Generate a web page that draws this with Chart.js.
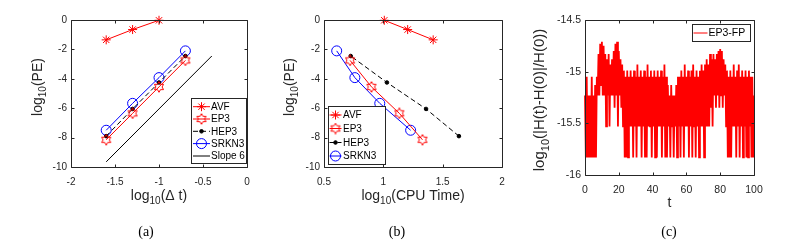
<!DOCTYPE html>
<html>
<head>
<meta charset="utf-8">
<script src="https://cdn.jsdelivr.net/npm/chart.js@4.4.0/dist/chart.umd.min.js"></script>
<style>
  body { margin: 0; background: #fff; }
  #wrap { position: relative; width: 796px; height: 245px; overflow: hidden; }
  canvas { position: absolute; top: 0; }
</style>
</head>
<body>
<div id="wrap">
  <canvas id="chartA" width="265" height="245" style="left:0px"></canvas>
  <canvas id="chartB" width="265" height="245" style="left:265px"></canvas>
  <canvas id="chartC" width="266" height="245" style="left:530px"></canvas>
</div>
<script>
// ---- data ----
// (a) error vs step size
const logDt = [-1.6, -1.3, -1.0, -0.7];
const avfPE = [-1.35, -0.65, -0.02];          // 4th point is above the axes
const ep3PE = [-8.15, -6.35, -4.55, -2.75];
const hep3PE = [-7.9, -6.05, -4.25, -2.45];
const srkn3PE = [-7.5, -5.67, -3.92, -2.1];
const slopeX = [-1.6, -0.4];
const slopeY = [-9.65, -2.45];

// (b) error vs CPU time (same order as logDt)
const avfCpu = [1.42, 1.205, 1.008];
const ep3Cpu = [1.33, 1.135, 0.9, 0.72];
const hep3Cpu = [1.637, 1.36, 1.03, 0.725];
const srkn3Cpu = [1.23, 0.97, 0.76, 0.607];

// (c) energy error of EP3-FP, sampled every tStep
const tStep = 0.5;
const fpLogErr = [
  -15.23, -15.83, -15.05, -15.83, -15.23, -15.83, -15.23, -15.83, -15.05, -15.83,
  -15.23, -15.83, -15.13, -15.83, -15.05, -15.23, -14.83, -15.23, -14.73, -15.13,
  -14.71, -15.23, -14.75, -15.23, -14.83, -15.53, -14.88, -15.23, -14.83, -15.53,
  -14.93, -15.23, -14.88, -15.23, -14.80, -15.35, -14.73, -15.23, -14.71, -15.53,
  -14.80, -15.23, -14.88, -15.35, -14.93, -15.53, -14.99, -15.83, -15.05, -15.83,
  -14.99, -15.83, -15.05, -15.53, -14.99, -15.53, -15.05, -15.83, -14.99, -15.53,
  -15.05, -15.83, -14.93, -15.53, -15.05, -15.53, -14.99, -15.83, -15.05, -15.53,
  -14.99, -15.83, -15.05, -15.83, -14.93, -15.53, -15.05, -15.53, -14.99, -15.83,
  -15.05, -15.53, -14.99, -15.83, -15.05, -15.83, -14.99, -15.53, -15.05, -15.53,
  -14.99, -15.83, -15.05, -15.53, -14.93, -15.83, -15.05, -15.83, -15.13, -15.53,
  -15.23, -15.83, -15.13, -15.53, -15.23, -15.83, -15.23, -15.53, -15.13, -15.83,
  -15.05, -15.53, -15.05, -15.83, -14.99, -15.53, -15.05, -15.83, -14.93, -15.53,
  -15.05, -15.53, -14.99, -15.83, -15.05, -15.53, -14.99, -15.83, -14.93, -15.53,
  -15.05, -15.83, -14.99, -15.53, -15.05, -15.83, -14.99, -15.53, -14.93, -15.53,
  -14.99, -15.83, -14.93, -15.53, -14.88, -15.53, -14.93, -15.53, -14.83, -15.35,
  -14.88, -15.53, -14.83, -15.23, -14.88, -15.35, -14.83, -15.23, -14.80, -15.35,
  -14.78, -15.23, -14.80, -15.35, -14.88, -15.23, -14.93, -15.53, -14.99, -15.83,
  -15.05, -15.83, -14.99, -15.83, -15.05, -15.53, -14.93, -15.53, -15.05, -15.83,
  -14.99, -15.53, -14.93, -15.83, -15.05, -15.53, -14.99, -15.83, -15.05, -15.53,
  -14.99, -15.83, -15.05, -15.83, -14.99, -15.53, -15.05, -15.83, -15.05, -15.83,
  -15.23
];

// ---- drawing helpers ----
const FONT = '"Liberation Sans", Arial, sans-serif';
const AXIS = '#262626';

function pts(xs, ys) {
  return ys.map((y, i) => ({ x: xs[i], y: y }));
}

function hexagram(size, color) {
  const c = document.createElement('canvas');
  c.width = c.height = size;
  const g = c.getContext('2d');
  const ro = size / 2 - 0.7, ri = ro / Math.sqrt(3);
  g.beginPath();
  for (let k = 0; k < 12; k++) {
    const r = k % 2 ? ri : ro;
    const a = -Math.PI / 2 + k * Math.PI / 6;
    const px = size / 2 + r * Math.cos(a), py = size / 2 + r * Math.sin(a);
    if (k === 0) g.moveTo(px, py); else g.lineTo(px, py);
  }
  g.closePath();
  g.strokeStyle = color;
  g.lineWidth = 1;
  g.stroke();
  return c;
}
const hexRed = hexagram(12, '#ff0000');

const styles = {
  AVF:   { color: '#ff0000', dash: [], pointStyle: 'star', radius: 4.5 },
  EP3:   { color: '#ff0000', dash: [], pointStyle: hexRed, radius: 6 },
  HEP3:  { color: '#000000', dash: [5, 3], pointStyle: 'circle', radius: 1.8, fill: true },
  SRKN3: { color: '#0000ff', dash: [], pointStyle: 'circle', radius: 5 },
  'Slope 6': { color: '#000000', dash: [], pointStyle: false, radius: 0 },
  'EP3-FP': { color: '#ff0000', dash: [], pointStyle: false, radius: 0, width: 1.8 }
};

function dataset(label, data) {
  const s = styles[label];
  return {
    label: label,
    data: data,
    borderColor: s.color,
    backgroundColor: s.fill ? s.color : 'rgba(0,0,0,0)',
    borderWidth: s.width || 1,
    borderDash: s.dash,
    pointStyle: s.pointStyle,
    pointRadius: s.radius,
    pointBorderWidth: 1,
    pointBorderColor: s.color,
    pointBackgroundColor: s.fill ? s.color : 'rgba(0,0,0,0)',
    tension: 0,
    clip: 8
  };
}

function drawParts(ctx, parts, x, y, rot, size) {
  ctx.save();
  ctx.translate(x, y);
  ctx.rotate(rot);
  ctx.fillStyle = AXIS;
  ctx.textAlign = 'left';
  ctx.textBaseline = 'alphabetic';
  const sub = Math.round(size * 0.7);
  let w = 0;
  parts.forEach(p => {
    ctx.font = (p[1] ? sub : size) + 'px ' + FONT;
    w += ctx.measureText(p[0]).width;
  });
  let cx = -w / 2;
  parts.forEach(p => {
    ctx.font = (p[1] ? sub : size) + 'px ' + FONT;
    ctx.fillText(p[0], cx, p[1] ? size * 0.3 : 0);
    cx += ctx.measureText(p[0]).width;
  });
  ctx.restore();
}

const matlab = {
  id: 'matlab',
  afterDatasetsDraw(chart, args, o) {
    const ctx = chart.ctx;
    const a = chart.chartArea;
    const xs = chart.scales.x, ys = chart.scales.y;
    ctx.save();
    ctx.strokeStyle = AXIS;
    ctx.lineWidth = 1;
    ctx.setLineDash([]);
    ctx.beginPath();
    const L = Math.round(a.left) + 0.5, R = Math.round(a.right) + 0.5;
    const T = Math.round(a.top) + 0.5, B = Math.round(a.bottom) + 0.5;
    ctx.rect(L, T, R - L, B - T);
    const tl = 3;
    xs.ticks.forEach(t => {
      const px = Math.round(xs.getPixelForValue(t.value)) + 0.5;
      ctx.moveTo(px, B); ctx.lineTo(px, B - tl);
      ctx.moveTo(px, T); ctx.lineTo(px, T + tl);
    });
    ys.ticks.forEach(t => {
      const py = Math.round(ys.getPixelForValue(t.value)) + 0.5;
      ctx.moveTo(L, py); ctx.lineTo(L + tl, py);
      ctx.moveTo(R, py); ctx.lineTo(R - tl, py);
    });
    ctx.stroke();

    // legend box
    const lg = o.legend;
    ctx.fillStyle = '#ffffff';
    ctx.fillRect(lg.x, lg.y, lg.w, lg.h);
    ctx.strokeStyle = AXIS;
    ctx.strokeRect(lg.x + 0.5, lg.y + 0.5, lg.w, lg.h);
    chart.data.datasets.forEach((ds, i) => {
      const s = styles[ds.label];
      const ry = lg.rows[i];
      ctx.strokeStyle = s.color;
      ctx.lineWidth = 1;
      ctx.setLineDash(s.dash);
      ctx.beginPath();
      ctx.moveTo(lg.x0, ry); ctx.lineTo(lg.x1, ry);
      ctx.stroke();
      ctx.setLineDash([]);
      if (s.pointStyle) {
        ctx.fillStyle = s.fill ? s.color : 'rgba(0,0,0,0)';
        ctx.strokeStyle = s.color;
        Chart.helpers.drawPoint(ctx, { pointStyle: s.pointStyle, radius: s.radius, rotation: 0, borderWidth: 1 },
          (lg.x0 + lg.x1) / 2, ry);
      }
      ctx.fillStyle = '#000000';
      ctx.font = lg.font + 'px ' + FONT;
      ctx.textAlign = 'left';
      ctx.textBaseline = 'middle';
      ctx.fillText(ds.label, lg.tx, ry + 0.5);
    });

    // axis titles and caption
    drawParts(ctx, o.xTitle, (a.left + a.right) / 2, o.xTitleY, 0, 14);
    drawParts(ctx, o.yTitle, o.yTitleX, o.yTitleY, -Math.PI / 2, o.yTitleSize || 14);
    ctx.fillStyle = '#000000';
    ctx.font = '14px "Liberation Serif", "Times New Roman", serif';
    ctx.textAlign = 'center';
    ctx.textBaseline = 'middle';
    ctx.fillText(o.caption, o.captionX, 232);
    ctx.restore();
  }
};

// MATLAB style tick text: -1, -1.5, 0.5, -15
const tickText = v => String(Math.round(v * 100) / 100);

function panel(id, datasets, sc, pad, extra) {
  const tickFont = { family: FONT, size: sc.fontSize || 10 };
  return new Chart(document.getElementById(id), {
    type: 'line',
    data: { datasets: datasets },
    options: {
      responsive: false,
      animation: false,
      events: [],
      layout: { padding: pad },
      plugins: { legend: { display: false }, tooltip: { enabled: false }, matlab: extra },
      scales: {
        x: {
          type: 'linear', min: sc.xMin, max: sc.xMax,
          grid: { display: false, drawTicks: false },
          border: { display: false },
          ticks: { stepSize: sc.xStep, color: AXIS, font: tickFont, padding: 9, maxRotation: 0, callback: tickText },
          afterFit(s) { s.height = 30; }
        },
        y: {
          type: 'linear', min: sc.yMin, max: sc.yMax,
          grid: { display: false, drawTicks: false },
          border: { display: false },
          ticks: { stepSize: sc.yStep, color: AXIS, font: tickFont, padding: 4, callback: tickText },
          afterFit(s) { s.width = 40; }
        }
      }
    },
    plugins: [matlab]
  });
}

// (a)
panel('chartA', [
  dataset('AVF', pts(logDt, avfPE)),
  dataset('EP3', pts(logDt, ep3PE)),
  dataset('HEP3', pts(logDt, hep3PE)),
  dataset('SRKN3', pts(logDt, srkn3PE)),
  dataset('Slope 6', pts(slopeX, slopeY))
], { xMin: -2, xMax: 0, xStep: 0.5, yMin: -10, yMax: 0, yStep: 2 },
  { left: 31, right: 18, top: 20, bottom: 48 },
  {
    legend: { x: 191, y: 98, w: 55, h: 65, rows: [106.7, 119, 131.3, 143.6, 156], x0: 193, x1: 210, tx: 211, font: 10 },
    xTitle: [['log', 0], ['10', 1], ['(\u0394 t)', 0]], xTitleY: 200,
    yTitle: [['log', 0], ['10', 1], ['(PE)', 0]], yTitleX: 42, yTitleY: 87,
    caption: '(a)', captionX: 146
  });

// (b)
panel('chartB', [
  dataset('AVF', pts(avfCpu, avfPE)),
  dataset('EP3', pts(ep3Cpu, ep3PE)),
  dataset('HEP3', pts(hep3Cpu, hep3PE)),
  dataset('SRKN3', pts(srkn3Cpu, srkn3PE))
], { xMin: 0.5, xMax: 2, xStep: 0.5, yMin: -10, yMax: 0, yStep: 2 },
  { left: 19, right: 28, top: 20, bottom: 48 },
  {
    legend: { x: 63, y: 106, w: 57, h: 58, rows: [115, 128.5, 142.5, 156], x0: 64.5, x1: 76.5, tx: 78, font: 10 },
    xTitle: [['log', 0], ['10', 1], ['(CPU Time)', 0]], xTitleY: 200,
    yTitle: [['log', 0], ['10', 1], ['(PE)', 0]], yTitleX: 28.5, yTitleY: 87,
    caption: '(b)', captionX: 132
  });

// (c)
panel('chartC', [
  dataset('EP3-FP', fpLogErr.map((v, i) => ({ x: i * tStep, y: v })))
], { xMin: 0, xMax: 100, xStep: 20, yMin: -16, yMax: -14.5, yStep: 0.5, fontSize: 10.5 },
  { left: 15, right: 42, top: 20, bottom: 40 },
  {
    legend: { x: 162, y: 24, w: 58, h: 17, rows: [33], x0: 163.5, x1: 177.5, tx: 178.5, font: 10.5 },
    xTitle: [['t', 0]], xTitleY: 207,
    yTitle: [['log', 0], ['10', 1], ['(|H(t)-H(0)|/H(0))', 0]], yTitleX: 14, yTitleY: 100, yTitleSize: 15,
    caption: '(c)', captionX: 139
  });
</script>
</body>
</html>
